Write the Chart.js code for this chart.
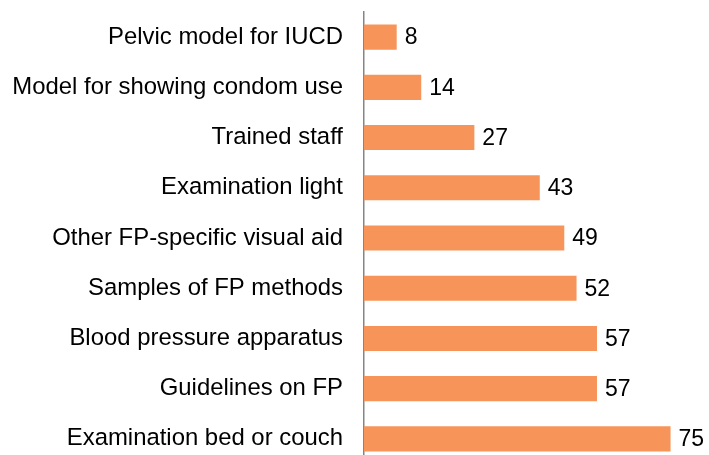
<!DOCTYPE html>
<html>
<head>
<meta charset="utf-8">
<script src="https://cdn.jsdelivr.net/npm/chart.js@4/dist/chart.umd.min.js"></script>
<style>
  html, body { margin: 0; padding: 0; background: #fff; overflow: hidden; }
</style>
</head>
<body>
<canvas id="barChart" width="709" height="464"></canvas>
<script>
// categories and values
const categories = [
  'Pelvic model for IUCD',
  'Model for showing condom use',
  'Trained staff',
  'Examination light',
  'Other FP-specific visual aid',
  'Samples of FP methods',
  'Blood pressure apparatus',
  'Guidelines on FP',
  'Examination bed or couch'
];
const values = [8, 14, 27, 43, 49, 52, 57, 57, 75];

const fontFamily = '"Liberation Sans", Arial, sans-serif';

// draws the value just past the end of each bar
const valueLabels = {
  id: 'valueLabels',
  afterDatasetsDraw(chart) {
    const c = chart.ctx;
    const meta = chart.getDatasetMeta(0);
    c.save();
    c.font = '23px ' + fontFamily;
    c.fillStyle = '#000';
    c.textAlign = 'left';
    c.textBaseline = 'middle';
    meta.data.forEach(function(bar, i) {
      c.fillText(String(values[i]), bar.x + 8, bar.y + 1);
    });
    c.restore();
  }
};

const ctx = document.getElementById('barChart').getContext('2d');
const barChart = new Chart(ctx, {
  type: 'bar',
  data: {
    labels: categories,
    datasets: [{
      data: values,
      backgroundColor: '#F79459',
      borderWidth: 0,
      barPercentage: 0.5,
      categoryPercentage: 1
    }]
  },
  options: {
    indexAxis: 'y',
    responsive: false,
    animation: false,
    layout: { padding: { top: 12, right: 18, bottom: 0, left: 0 } },
    plugins: {
      legend: { display: false },
      tooltip: { enabled: false }
    },
    scales: {
      x: { display: false, min: 0, max: 80 },
      y: {
        grid: { display: false },
        border: { display: true, color: '#858585', width: 1.5 },
        ticks: {
          color: '#000',
          padding: 13,
          font: { family: fontFamily, size: 23.9 }
        },
        afterFit(scale) {
          // keep the axis at the same place as the original, no extra top/bottom room
          scale.width = 364;
          scale.paddingTop = 0;
          scale.paddingBottom = 0;
        }
      }
    }
  },
  plugins: [valueLabels]
});
</script>
</body>
</html>
